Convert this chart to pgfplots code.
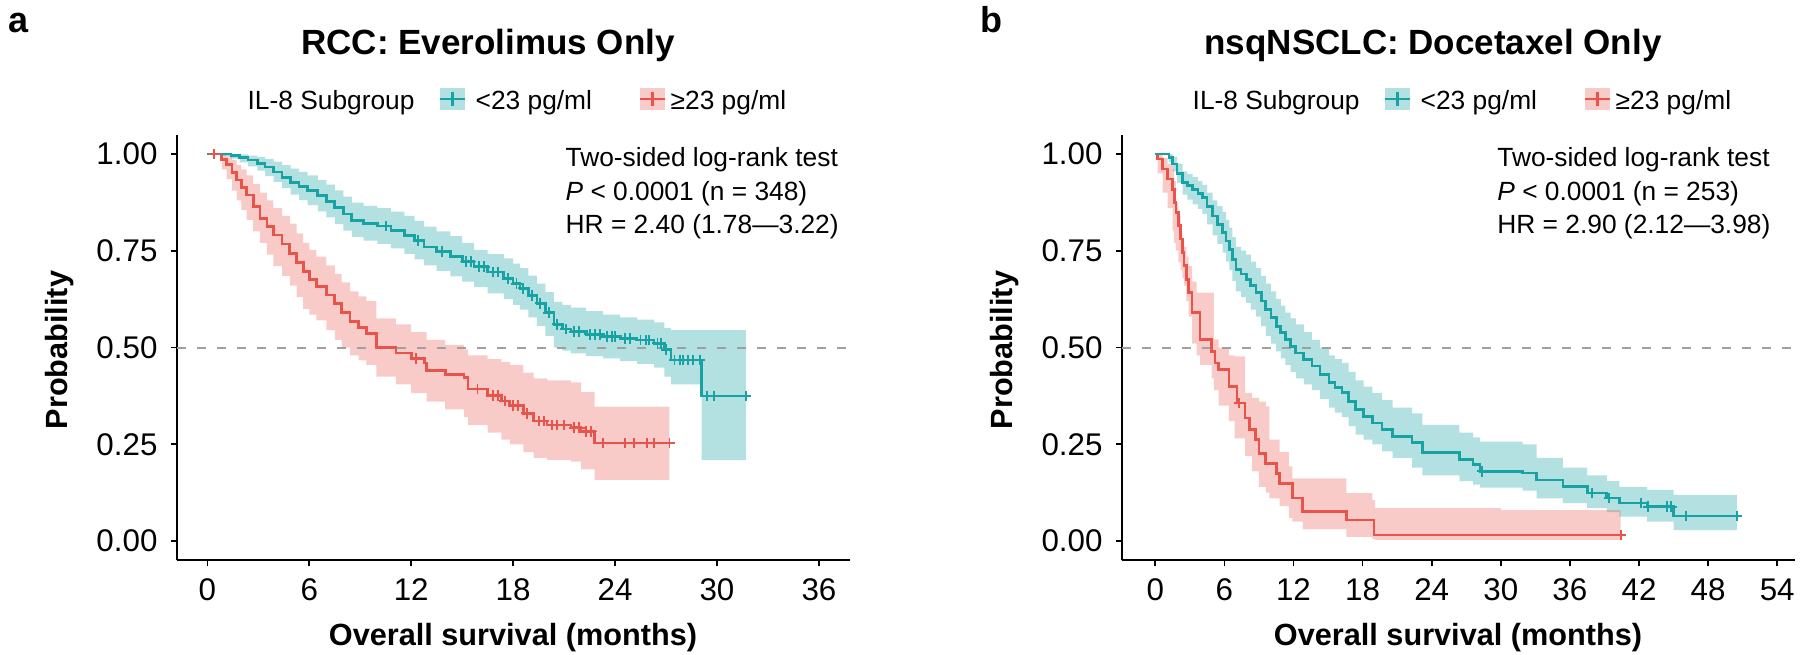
\documentclass[border=0pt]{standalone}
\usepackage{fontspec}
\setmainfont{Liberation Sans}
\usepackage{pgfplots}
\usepackage{pgfplotstable}
\pgfplotsset{compat=1.18}
\usepgfplotslibrary{fillbetween}
\definecolor{tealline}{RGB}{23,163,163}
\definecolor{redline}{RGB}{232,84,74}
\definecolor{dashgray}{RGB}{160,160,160}

% ---------------- Panel a data ----------------
\pgfplotstableread{
t p
0 1.000
1.4 0.996
1.9 0.990
2.4 0.984
2.95 0.976
3.4 0.966
3.9 0.953
4.4 0.940
4.9 0.927
5.4 0.916
5.9 0.905
6.5 0.892
7.0 0.878
7.5 0.862
8.0 0.845
8.5 0.828
9.2 0.820
10.0 0.814
10.8 0.803
11.6 0.790
12.2 0.776
12.75 0.760
13.5 0.748
14.3 0.735
15.0 0.722
15.7 0.709
16.5 0.695
17.45 0.679
18.0 0.665
18.4 0.653
18.9 0.635
19.4 0.614
19.9 0.590
20.4 0.560
20.9 0.548
21.4 0.541
22.3 0.534
23.3 0.528
24.3 0.523
25.3 0.519
26.3 0.511
26.9 0.494
27.3 0.468
29.1 0.375
31.7 0.375
}\tealA
\pgfplotstableread{
t u l
0 1.000 1.000
0.8 1.000 0.995
1.4 1.000 0.988
1.9 0.999 0.978
2.4 0.996 0.968
2.95 0.992 0.957
3.4 0.987 0.943
3.9 0.980 0.928
4.4 0.971 0.912
4.9 0.962 0.895
5.4 0.954 0.881
5.9 0.945 0.868
6.5 0.933 0.852
7.0 0.921 0.836
7.5 0.906 0.819
8.0 0.890 0.802
8.5 0.874 0.786
9.2 0.866 0.776
10.0 0.860 0.768
10.8 0.851 0.756
11.6 0.840 0.742
12.2 0.827 0.728
12.75 0.812 0.712
13.5 0.800 0.698
14.3 0.788 0.684
15.0 0.770 0.670
15.7 0.752 0.656
16.5 0.741 0.640
17.45 0.730 0.625
18.0 0.717 0.610
18.4 0.705 0.598
18.9 0.686 0.578
19.4 0.665 0.556
19.9 0.643 0.530
20.4 0.618 0.500
20.9 0.610 0.492
21.4 0.603 0.485
22.3 0.594 0.478
23.3 0.585 0.472
24.3 0.578 0.465
25.3 0.572 0.458
26.3 0.565 0.448
26.9 0.550 0.425
27.3 0.545 0.405
29.1 0.545 0.209
31.7 0.545 0.209
}\tealbandA
\pgfplotstableread{
t p
0 1.000
0.85 0.986
1.13 0.972
1.45 0.952
1.72 0.933
2.0 0.914
2.31 0.894
2.7 0.864
3.09 0.834
3.5 0.812
3.88 0.791
4.4 0.767
4.85 0.743
5.25 0.720
5.64 0.696
6.0 0.676
6.42 0.657
7.0 0.636
7.5 0.614
7.9 0.590
8.4 0.567
8.9 0.552
9.36 0.537
9.95 0.500
11.1 0.486
12.0 0.472
12.8 0.460
12.9 0.440
14.0 0.430
15.1 0.423
15.35 0.393
16.5 0.376
17.3 0.362
17.8 0.350
18.6 0.330
19.2 0.310
20.0 0.300
21.4 0.293
22.0 0.283
22.8 0.253
27.2 0.253
}\redA
\pgfplotstableread{
t u l
0 1.000 1.000
0.85 1.000 0.960
1.13 0.995 0.935
1.45 0.985 0.905
1.72 0.972 0.880
2.0 0.960 0.855
2.31 0.945 0.830
2.7 0.922 0.800
3.09 0.900 0.770
3.5 0.880 0.740
3.88 0.860 0.710
4.4 0.840 0.685
4.85 0.820 0.660
5.25 0.795 0.630
5.64 0.770 0.600
6.0 0.752 0.585
6.42 0.735 0.570
7.0 0.712 0.545
7.5 0.690 0.520
7.9 0.668 0.500
8.4 0.645 0.480
8.9 0.632 0.467
9.36 0.620 0.455
9.95 0.575 0.425
11.1 0.560 0.405
12.0 0.540 0.382
12.9 0.520 0.360
14.0 0.507 0.340
15.1 0.495 0.320
15.35 0.480 0.300
16.5 0.470 0.280
17.3 0.462 0.262
17.8 0.455 0.250
18.6 0.435 0.230
19.2 0.420 0.215
20.0 0.415 0.210
21.4 0.410 0.205
22.0 0.385 0.185
22.8 0.347 0.158
27.2 0.347 0.158
}\redbandA

% ---------------- Panel b data ----------------
\pgfplotstableread{
t p
0 1.000
1.2 0.991
1.5 0.974
1.9 0.950
2.37 0.927
2.8 0.918
3.24 0.909
3.7 0.898
4.1 0.888
4.5 0.865
4.98 0.840
5.4 0.818
5.85 0.797
6.15 0.775
6.43 0.754
6.7 0.728
7.0 0.702
7.45 0.690
7.9 0.676
8.3 0.660
8.75 0.642
9.2 0.620
9.6 0.598
10.05 0.577
10.5 0.555
10.9 0.538
11.3 0.521
11.75 0.503
12.2 0.486
12.9 0.469
13.6 0.452
14.3 0.430
15.1 0.409
15.6 0.396
16.2 0.383
16.8 0.361
17.4 0.339
18.1 0.322
18.85 0.305
19.7 0.288
20.6 0.270
22.3 0.254
23.2 0.228
26.4 0.210
27.6 0.197
28.2 0.180
31.9 0.176
33.1 0.158
35.4 0.141
37.5 0.124
39.2 0.111
40.3 0.098
42.7 0.089
45.0 0.065
50.5 0.065
}\tealB
\pgfplotstableread{
t u l
0 1.000 1.000
1.2 1.000 0.978
1.5 0.993 0.955
1.9 0.975 0.925
2.37 0.955 0.895
2.8 0.948 0.882
3.24 0.940 0.870
3.7 0.930 0.858
4.1 0.920 0.845
4.5 0.900 0.818
4.98 0.880 0.790
5.4 0.865 0.768
5.85 0.850 0.745
6.15 0.830 0.722
6.43 0.810 0.700
6.7 0.785 0.672
7.0 0.760 0.645
7.45 0.750 0.630
7.9 0.740 0.615
8.3 0.722 0.598
8.75 0.705 0.580
9.2 0.685 0.555
9.6 0.665 0.530
10.05 0.645 0.510
10.5 0.625 0.490
10.9 0.608 0.472
11.3 0.590 0.455
11.75 0.575 0.437
12.2 0.560 0.420
12.9 0.540 0.405
13.6 0.520 0.390
14.3 0.500 0.367
15.1 0.480 0.345
15.6 0.470 0.332
16.2 0.460 0.320
16.8 0.437 0.297
17.4 0.415 0.275
18.1 0.399 0.262
18.85 0.383 0.250
19.7 0.364 0.232
20.6 0.345 0.215
22.3 0.330 0.190
23.2 0.300 0.170
26.4 0.280 0.155
27.6 0.268 0.146
28.2 0.257 0.138
31.9 0.250 0.130
33.1 0.215 0.110
35.4 0.190 0.098
37.5 0.170 0.085
39.2 0.155 0.075
40.3 0.140 0.063
42.7 0.132 0.050
45.0 0.119 0.028
50.5 0.119 0.028
}\tealbandB
\pgfplotstableread{
t p
0 1.000
0.2 0.987
0.64 0.961
1.07 0.935
1.5 0.909
1.65 0.875
1.8 0.849
2.0 0.815
2.2 0.780
2.35 0.745
2.5 0.711
2.7 0.676
2.9 0.642
3.2 0.590
3.9 0.521
4.9 0.490
5.2 0.460
5.5 0.443
6.4 0.400
7.1 0.357
7.8 0.318
8.2 0.288
8.7 0.262
9.0 0.227
9.6 0.201
10.5 0.175
10.8 0.149
11.9 0.111
12.8 0.076
16.6 0.054
19.0 0.016
40.4 0.016
}\redB
\pgfplotstableread{
t u l
0 1.000 1.000
0.2 1.000 0.950
0.64 0.990 0.900
1.07 0.975 0.860
1.5 0.960 0.800
1.65 0.930 0.770
1.8 0.875 0.750
2.0 0.840 0.720
2.2 0.800 0.700
2.35 0.780 0.680
2.5 0.760 0.660
2.7 0.735 0.620
2.9 0.710 0.580
3.2 0.670 0.510
3.6 0.642 0.480
3.9 0.642 0.455
4.9 0.642 0.420
5.1 0.521 0.390
5.5 0.500 0.350
6.4 0.480 0.310
6.9 0.477 0.265
7.8 0.383 0.220
8.4 0.370 0.180
9.0 0.360 0.140
9.6 0.348 0.125
9.9 0.262 0.110
10.8 0.230 0.090
11.6 0.193 0.060
11.9 0.162 0.050
12.8 0.162 0.030
16.6 0.124 0.011
18.85 0.106 0.005
19.1 0.085 0.003
30.0 0.080 0.003
40.4 0.075 0.003
}\redbandB

\pgfplotsset{
  kmaxis/.style={
    scale only axis, width=201.81pt, height=127.74pt,
    anchor=south west,
    axis x line=bottom, axis y line=left,
    axis line style={-, line width=0.6pt, black},
    ymin=-0.05, ymax=1.05,
    ytick={0,0.25,0.5,0.75,1},
    yticklabels={0.00,0.25,0.50,0.75,1.00},
    tick align=outside,
    major tick length=1.8pt,
    tick style={line width=0.5pt, black},
    ticklabel style={font=\fontsize{9.4}{10}\selectfont},
    yticklabel style={inner sep=0pt, xshift=-3.8pt},
    xticklabel style={inner sep=0pt, yshift=-3.6pt},
  },
  kmline/.style={const plot, line width=0.8pt, #1},
  cens/.style={only marks, mark=+, mark size=1.6pt, #1, mark options={line width=0.55pt}},
  dashref/.style={dashgray, line width=0.6pt, dash pattern=on 2.7pt off 3.3pt},
}

\begin{document}
\begin{tikzpicture}

% ================= Panel a =================
\begin{axis}[kmaxis, at={(53.04pt,28.08pt)},
  xmin=-1.8, xmax=37.8,
  xtick={0,6,12,18,24,30,36},
  xticklabels={0,6,12,18,24,30,36}]
  \addplot[draw=none, const plot, name path=atu, forget plot] table[x=t,y=u] {\tealbandA};
  \addplot[draw=none, const plot, name path=atl, forget plot] table[x=t,y=l] {\tealbandA};
  \addplot[fill=tealline, fill opacity=0.33, draw=none, forget plot] fill between[of=atu and atl];
  \addplot[draw=none, const plot, name path=aru, forget plot] table[x=t,y=u] {\redbandA};
  \addplot[draw=none, const plot, name path=arl, forget plot] table[x=t,y=l] {\redbandA};
  \addplot[fill=redline, fill opacity=0.30, draw=none, forget plot] fill between[of=aru and arl];
  \addplot[dashref] coordinates {(-1.8,0.5) (37.8,0.5)};
  \addplot[kmline=redline] table[x=t,y=p] {\redA};
  \addplot[kmline=tealline] table[x=t,y=p] {\tealA};
  \addplot[cens=redline] coordinates {(0.4,1.0) (12.3,0.472) (15.9,0.393) (16.8,0.376) (17.1,0.376) (17.5,0.362) (18.0,0.350) (18.3,0.350) (18.8,0.330) (19.5,0.310) (19.8,0.310) (20.3,0.300) (20.6,0.300) (21.0,0.300) (21.6,0.293) (21.9,0.293) (22.3,0.283) (22.6,0.283) (23.3,0.253) (24.6,0.253) (25.1,0.253) (25.9,0.253) (26.3,0.253) (27.2,0.253)};
  \addplot[cens=tealline] coordinates {(10.5,0.814) (12.4,0.776) (13.8,0.748) (15.2,0.722) (15.5,0.722) (16.0,0.709) (16.3,0.709) (16.8,0.695) (17.1,0.695) (17.7,0.679) (18.2,0.665) (18.6,0.653) (19.1,0.635) (19.6,0.614) (20.1,0.590) (20.6,0.560) (21.1,0.548) (21.6,0.541) (21.9,0.541) (22.5,0.534) (22.8,0.534) (23.1,0.534) (23.5,0.528) (23.8,0.528) (24.0,0.528) (24.6,0.523) (24.9,0.523) (25.5,0.519) (25.8,0.519) (26.0,0.519) (26.5,0.511) (26.7,0.511) (27.0,0.494) (27.5,0.468) (27.8,0.468) (28.0,0.468) (28.3,0.468) (28.6,0.468) (29.0,0.468) (29.4,0.375) (29.8,0.375) (31.7,0.375)};
\end{axis}

% ================= Panel b =================
\begin{axis}[kmaxis, at={(336.54pt,28.08pt)},
  xmin=-2.9, xmax=55.5,
  xtick={0,6,12,18,24,30,36,42,48,54},
  xticklabels={0,6,12,18,24,30,36,42,48,54}]
  \addplot[draw=none, const plot, name path=btu, forget plot] table[x=t,y=u] {\tealbandB};
  \addplot[draw=none, const plot, name path=btl, forget plot] table[x=t,y=l] {\tealbandB};
  \addplot[fill=tealline, fill opacity=0.33, draw=none, forget plot] fill between[of=btu and btl];
  \addplot[draw=none, const plot, name path=bru, forget plot] table[x=t,y=u] {\redbandB};
  \addplot[draw=none, const plot, name path=brl, forget plot] table[x=t,y=l] {\redbandB};
  \addplot[fill=redline, fill opacity=0.30, draw=none, forget plot] fill between[of=bru and brl];
  \addplot[dashref] coordinates {(-2.9,0.5) (55.5,0.5)};
  \addplot[kmline=redline] table[x=t,y=p] {\redB};
  \addplot[kmline=tealline] table[x=t,y=p] {\tealB};
  \addplot[cens=redline] coordinates {(7.3,0.357) (40.4,0.016)};
  \addplot[cens=tealline] coordinates {(28.4,0.180) (37.9,0.124) (39.4,0.111) (42.2,0.098) (42.8,0.089) (44.4,0.089) (44.8,0.089) (46.1,0.065) (50.5,0.065)};
\end{axis}

% ================= Texts (pixel units) =================
\begin{scope}[x=0.3pt,y=0.3pt]
  \foreach \dx/\lx/\lab/\ttl/\ann/\pv/\n/\hr in {0/8/a/{RCC: Everolimus Only}/565/{0.0001}/348/{2.40 (1.78\textemdash 3.22)},945/980/b/{nsqNSCLC: Docetaxel Only}/1496.7/{0.0001}/253/{2.90 (2.12\textemdash 3.98)}}{
    \node[anchor=base west, inner sep=0pt, font=\fontsize{10.8}{12}\bfseries\selectfont] at (\lx,621) {\lab};
    \node[anchor=base, inner sep=0pt, font=\fontsize{10.5}{12}\bfseries\selectfont] at (488+\dx,599) {\ttl};
    % legend
    \node[anchor=base west, inner sep=0pt, font=\fontsize{7.9}{9}\selectfont] at (247+\dx,544) {IL-8 Subgroup};
    \fill[tealline, opacity=0.33] (440+\dx,544) rectangle (465+\dx,566);
    \draw[tealline, line width=0.8pt] (440+\dx,555) -- (465+\dx,555) (452.5+\dx,548) -- (452.5+\dx,562);
    \node[anchor=base west, inner sep=0pt, font=\fontsize{7.9}{9}\selectfont] at (475+\dx,544) {<23 pg/ml};
    \fill[redline, opacity=0.30] (640+\dx,544) rectangle (665+\dx,566);
    \draw[redline, line width=0.8pt] (640+\dx,555) -- (665+\dx,555) (652.5+\dx,548) -- (652.5+\dx,562);
    \node[anchor=base west, inner sep=0pt, font=\fontsize{7.9}{9}\selectfont] at (670+\dx,544) {≥23 pg/ml};
    % annotation
    \node[anchor=base west, inner sep=0pt, font=\fontsize{7.9}{9}\selectfont] at (\ann,487.3) {Two-sided log-rank test};
    \node[anchor=base west, inner sep=0pt, font=\fontsize{7.9}{9}\selectfont] at (\ann,454) {\textit{P} < \pv\ (n = \n)};
    \node[anchor=base west, inner sep=0pt, font=\fontsize{7.9}{9}\selectfont] at (\ann,421) {HR = \hr};
    % axis titles
    \node[anchor=base, inner sep=0pt, font=\fontsize{9.2}{11}\bfseries\selectfont] at (513+\dx,9) {Overall survival (months)};
    \node[anchor=base, rotate=90, inner sep=0pt, font=\fontsize{9.2}{11}\bfseries\selectfont] at (67+\dx,304) {Probability};
  }
\end{scope}

\pgfresetboundingbox
\useasboundingbox (0,0) rectangle (540pt,196.2pt);
\end{tikzpicture}
\end{document}
